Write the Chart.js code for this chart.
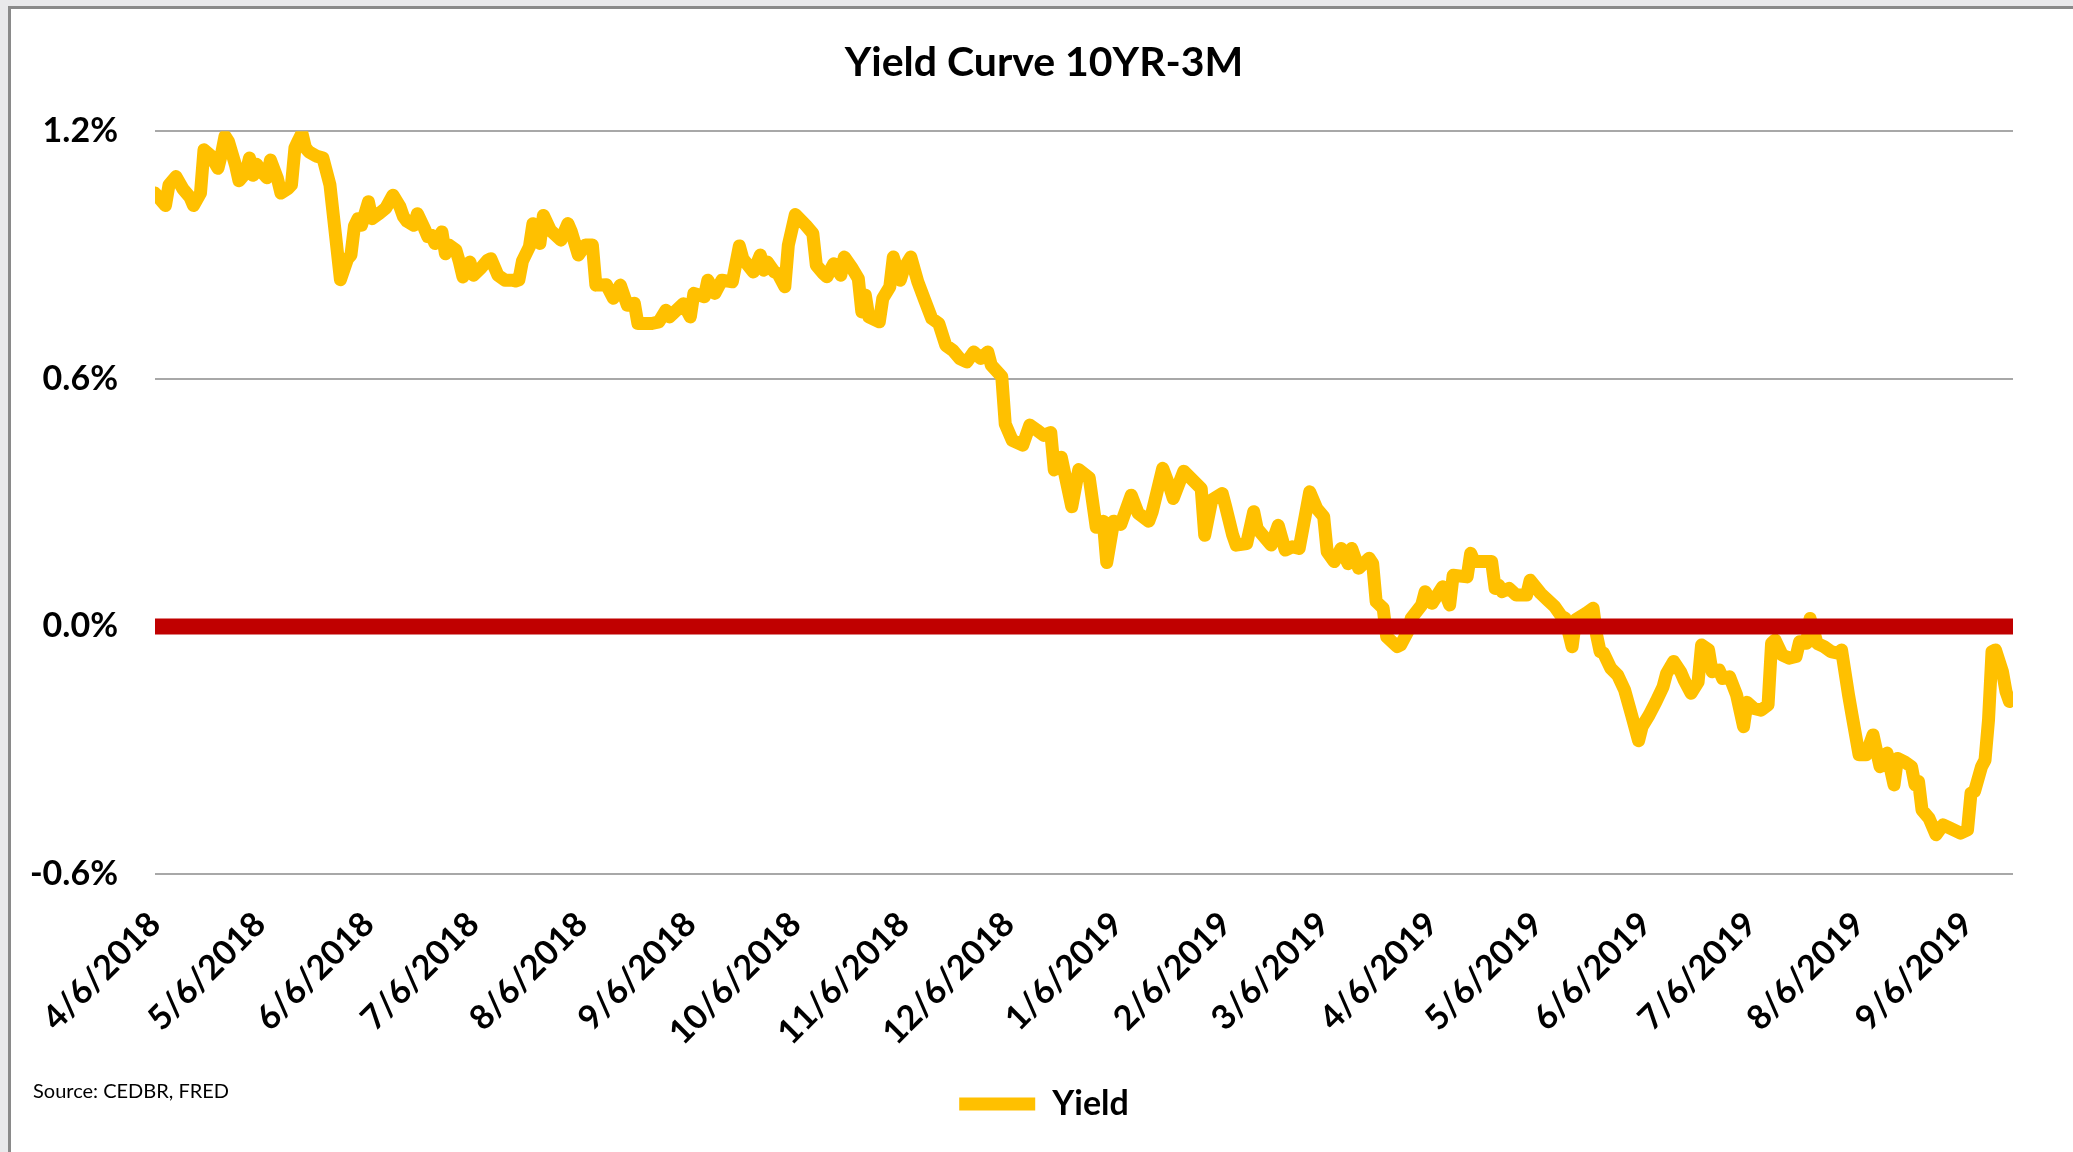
<!DOCTYPE html>
<html>
<head>
<meta charset="utf-8">
<script src="https://cdn.jsdelivr.net/npm/chart.js@4.4.1/dist/chart.umd.min.js"></script>
<style>
  html, body { margin: 0; padding: 0; }
  body { width: 2073px; height: 1152px; background: #e9e9eb; position: relative; overflow: hidden; }
  #frame { position: absolute; left: 8px; top: 6px; right: 0; bottom: 0; background: #fff;
           border-left: 3px solid #8a8a8a; border-top: 3px solid #8a8a8a; }
  #yieldChart { position: absolute; left: 0; top: 0; }
</style>
</head>
<body>
<div id="frame"></div>
<canvas id="yieldChart" width="2073" height="1152"></canvas>
<script>
// days since 4/6/2018
const tickDays = [0, 30, 61, 91, 122, 153, 183, 214, 244, 275, 306, 334, 365, 395, 426, 456, 487, 518];
const tickLabels = ['4/6/2018', '5/6/2018', '6/6/2018', '7/6/2018', '8/6/2018', '9/6/2018',
  '10/6/2018', '11/6/2018', '12/6/2018', '1/6/2019', '2/6/2019', '3/6/2019', '4/6/2019',
  '5/6/2019', '6/6/2019', '7/6/2019', '8/6/2019', '9/6/2019'];

const yieldDays = [
  0, 3, 4, 6, 8, 10, 11, 13, 14, 16, 18, 19, 20, 21, 23, 24, 26, 27, 28, 29,
  31, 32, 33, 35, 36, 38, 39, 40, 41, 42, 43, 44, 46, 48, 50, 53, 55, 56, 57, 58,
  59, 61, 62, 64, 66, 68, 70, 71, 72, 74, 75, 77, 78, 79, 80, 82, 83, 84, 86, 87,
  88, 90, 91, 93, 95, 96, 98, 100, 102, 103, 104, 105, 107, 108, 110, 111, 113, 116, 118, 119,
  121, 123, 125, 126, 129, 131, 133, 135, 137, 138, 140, 142, 144, 146, 147, 151, 153, 154, 157, 158,
  160, 162, 165, 167, 168, 171, 173, 174, 175, 177, 178, 180, 181, 183, 186, 188, 189, 191, 192, 194,
  196, 197, 199, 201, 202, 203, 204, 207, 208, 210, 211, 213, 214, 216, 218, 220, 222, 224, 226, 228,
  230, 232, 234, 236, 238, 239, 242, 243, 245, 248, 250, 252, 254, 256, 257, 259, 262, 264, 267, 269,
  271, 272, 274, 276, 279, 281, 284, 285, 288, 290, 291, 294, 299, 300, 302, 305, 306, 308, 309, 312,
  314, 315, 319, 321, 323, 325, 327, 330, 332, 334, 335, 337, 339, 341, 342, 344, 347, 348, 349, 351,
  352, 355, 356, 358, 359, 362, 363, 365, 368, 370, 371, 375, 376, 377, 382, 383, 384, 385, 387, 389,
  392, 393, 396, 398, 400, 402, 403, 405, 406, 409, 411, 412, 413, 414, 416, 418, 420, 422, 424, 425,
  427, 429, 431, 432, 434, 436, 437, 439, 441, 442, 444, 445, 447, 448, 450, 452, 454, 455, 457, 459,
  461, 462, 463, 465, 467, 469, 470, 472, 473, 475, 477, 479, 481, 482, 484, 485, 487, 489, 491, 493,
  495, 497, 498, 500, 502, 503, 504, 505, 507, 509, 511, 513, 516, 518, 519, 520, 522, 523, 524, 525,
  526, 528, 529, 530
];
const yieldValues = [
  1.05, 1.02, 1.07, 1.09, 1.06, 1.04, 1.02, 1.05, 1.155, 1.14, 1.11, 1.145, 1.188, 1.175, 1.118, 1.08, 1.10, 1.135, 1.093, 1.12,
  1.097, 1.087, 1.13, 1.085, 1.05, 1.061, 1.07, 1.16, 1.178, 1.195, 1.16, 1.15, 1.14, 1.135, 1.07, 0.84, 0.89, 0.90, 0.97, 0.988,
  0.972, 1.029, 0.988, 1.0, 1.014, 1.045, 1.017, 0.993, 0.982, 0.972, 1.0, 0.964, 0.944, 0.948, 0.928, 0.956, 0.903, 0.924, 0.912, 0.883,
  0.847, 0.883, 0.851, 0.867, 0.887, 0.891, 0.851, 0.839, 0.839, 0.837, 0.84, 0.885, 0.92, 0.976, 0.928, 0.996, 0.96, 0.936, 0.976, 0.956,
  0.90, 0.924, 0.924, 0.827, 0.828, 0.795, 0.827, 0.778, 0.783, 0.734, 0.734, 0.734, 0.738, 0.766, 0.75, 0.782, 0.75, 0.807, 0.799, 0.839,
  0.807, 0.839, 0.835, 0.922, 0.891, 0.859, 0.90, 0.863, 0.883, 0.859, 0.855, 0.823, 0.924, 0.998, 0.972, 0.952, 0.875, 0.855, 0.847, 0.879,
  0.851, 0.895, 0.871, 0.843, 0.762, 0.803, 0.75, 0.738, 0.795, 0.823, 0.895, 0.839, 0.867, 0.895, 0.835, 0.79, 0.746, 0.734, 0.681, 0.669,
  0.649, 0.641, 0.665, 0.649, 0.665, 0.633, 0.605, 0.49, 0.451, 0.439, 0.488, 0.476, 0.463, 0.47, 0.379, 0.41, 0.29, 0.38, 0.36, 0.24,
  0.255, 0.155, 0.255, 0.247, 0.318, 0.274, 0.255, 0.278, 0.383, 0.338, 0.31, 0.376, 0.334, 0.221, 0.306, 0.322, 0.29, 0.221, 0.197, 0.201,
  0.278, 0.237, 0.197, 0.245, 0.185, 0.193, 0.189, 0.326, 0.286, 0.266, 0.181, 0.157, 0.189, 0.152, 0.189, 0.141, 0.165, 0.152, 0.06, 0.044,
  -0.025, -0.049, -0.045, -0.013, 0.019, 0.052, 0.084, 0.056, 0.096, 0.052, 0.124, 0.12, 0.177, 0.157, 0.157, 0.092, 0.10, 0.084, 0.092, 0.076,
  0.076, 0.112, 0.08, 0.064, 0.048, 0.024, 0.02, -0.049, 0.016, 0.032, 0.044, -0.021, -0.061, -0.065, -0.101, -0.118, -0.154, -0.215, -0.277, -0.243,
  -0.215, -0.182, -0.146, -0.114, -0.085, -0.11, -0.13, -0.162, -0.135, -0.045, -0.057, -0.11, -0.106, -0.126, -0.122, -0.166, -0.243, -0.184, -0.199, -0.203,
  -0.19, -0.041, -0.033, -0.069, -0.077, -0.073, -0.037, -0.041, 0.019, -0.041, -0.049, -0.061, -0.065, -0.057, -0.166, -0.215, -0.311, -0.311, -0.263, -0.34,
  -0.307, -0.384, -0.32, -0.328, -0.34, -0.384, -0.376, -0.445, -0.465, -0.505, -0.481, -0.489, -0.501, -0.493, -0.404, -0.40, -0.34, -0.324, -0.227, -0.061,
  -0.057, -0.11, -0.158, -0.182
];

const zeroDays = [0, 531];
const zeroValues = [0, 0];

const yTicks = [-0.6, 0, 0.6, 1.2];

const sourceNote = {
  id: 'sourceNote',
  afterDraw(chart) {
    const c = chart.ctx;
    c.save();
    c.font = '20px Lato';
    c.fillStyle = '#000';
    c.textBaseline = 'middle';
    c.fillText('Source: CEDBR, FRED', 33, 1092);
    c.restore();
  }
};

// title and legend sit centred on the whole chart box, not the plot
const centreBoxes = {
  id: 'centreBoxes',
  afterLayout(chart) {
    chart.titleBlock.left += 75;
    chart.legend.left += 75;
  }
};

const ctx = document.getElementById('yieldChart').getContext('2d');

const yieldChart = new Chart(ctx, {
  type: 'line',
  data: {
    datasets: [{
      label: 'Zero',
      data: zeroDays.map((d, i) => ({ x: d, y: zeroValues[i] })),
      borderColor: '#C00000',
      borderWidth: 16,
      borderCapStyle: 'butt',
      pointRadius: 0,
      order: 0
    },
    {
      label: 'Yield',
      data: yieldDays.map((d, i) => ({ x: d, y: yieldValues[i] })),
      borderColor: '#FFC000',
      backgroundColor: '#FFC000',
      borderWidth: 13,
      borderCapStyle: 'round',
      borderJoinStyle: 'round',
      pointRadius: 0,
      tension: 0,
      order: 1
    }]
  },
  options: {
    responsive: false,
    animation: false,
    layout: { padding: { left: 0, right: 60, top: 0, bottom: 21 } },
    scales: {
      x: {
        type: 'linear',
        min: 0,
        max: 531,
        grid: { display: false },
        border: { display: false },
        afterBuildTicks: (scale) => {
          scale.ticks = tickDays.map(v => ({ value: v }));
        },
        afterFit: (scale) => { scale.height = 203; },
        ticks: {
          autoSkip: false,
          minRotation: 45,
          maxRotation: 45,
          padding: 22,
          color: '#000',
          font: { family: 'Lato', size: 34, weight: 'bold' },
          callback: (value, index) => tickLabels[index]
        }
      },
      y: {
        min: -0.6,
        max: 1.2,
        grid: { color: '#a8a8a8', lineWidth: 2, drawTicks: false },
        border: { display: false },
        afterBuildTicks: (scale) => {
          scale.ticks = yTicks.map(v => ({ value: v }));
        },
        afterFit: (scale) => { scale.width = 155; },
        ticks: {
          padding: 37,
          color: '#000',
          font: { family: 'Lato', size: 34, weight: 'bold' },
          callback: (value) => value.toFixed(1) + '%'
        }
      }
    },
    plugins: {
      title: {
        display: true,
        text: 'Yield Curve 10YR-3M',
        color: '#000',
        font: { family: 'Lato', size: 41, weight: 'bold' },
        padding: { top: 38, bottom: 44 }
      },
      legend: {
        position: 'bottom',
        labels: {
          filter: (item) => item.text === 'Yield',
          usePointStyle: true,
          pointStyle: 'line',
          pointStyleWidth: 76,
          color: '#000',
          padding: 10,
          font: { family: 'Lato', size: 34, weight: 'bold' }
        }
      },
      tooltip: { enabled: false }
    }
  },
  plugins: [sourceNote, centreBoxes]
});
</script>
</body>
</html>
